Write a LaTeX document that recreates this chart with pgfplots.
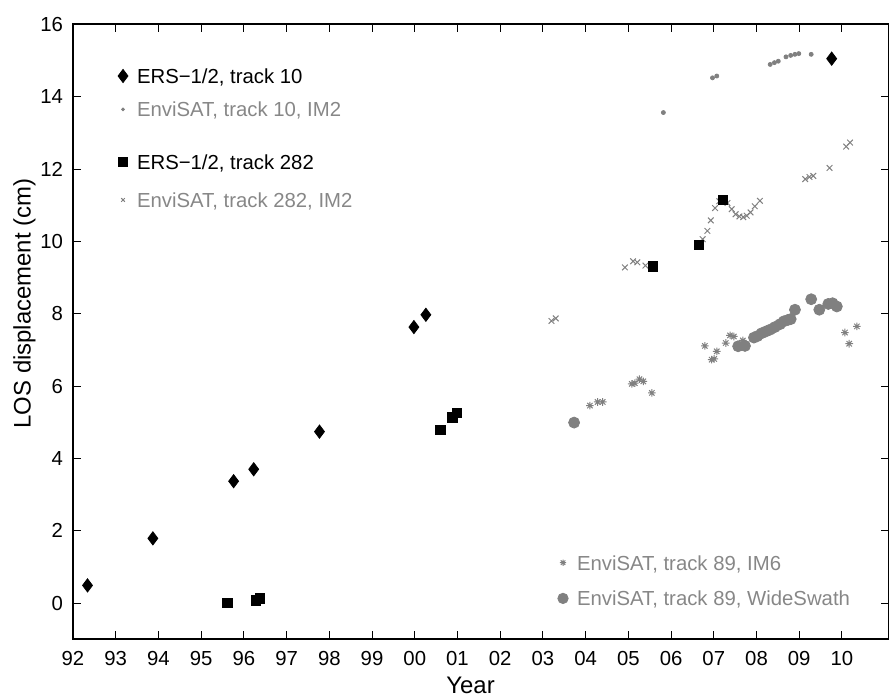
\documentclass[border=0pt]{standalone}
\usepackage{pgfplots}
\pgfplotsset{compat=1.18}
\usepackage{fontspec}
\setmainfont{Liberation Sans}
\definecolor{envgray}{RGB}{128,128,128}
\definecolor{txtgray}{RGB}{135,135,135}

\pgfdeclareplotmark{ast8}{%
  \pgfpathmoveto{\pgfqpoint{-\pgfplotmarksize}{0pt}}\pgfpathlineto{\pgfqpoint{\pgfplotmarksize}{0pt}}%
  \pgfpathmoveto{\pgfqpoint{0pt}{-\pgfplotmarksize}}\pgfpathlineto{\pgfqpoint{0pt}{\pgfplotmarksize}}%
  \pgfpathmoveto{\pgfqpoint{-0.7071\pgfplotmarksize}{-0.7071\pgfplotmarksize}}\pgfpathlineto{\pgfqpoint{0.7071\pgfplotmarksize}{0.7071\pgfplotmarksize}}%
  \pgfpathmoveto{\pgfqpoint{-0.7071\pgfplotmarksize}{0.7071\pgfplotmarksize}}\pgfpathlineto{\pgfqpoint{0.7071\pgfplotmarksize}{-0.7071\pgfplotmarksize}}%
  \pgfusepathqstroke}

\pgfplotsset{
  base/.style={
    width=407.75bp, height=307.5bp, scale only axis,
    xmin=1992, xmax=2011.09, ymin=-1, ymax=16,
    at={(0,0)}, anchor=south west,
  },
  leg/.style={
    legend cell align=left,
    legend style={draw=none, fill=none, inner sep=0pt, outer sep=0pt, column sep=2bp, row sep=#1,
      nodes={inner sep=0pt, outer sep=0pt, text height=7.3bp, text depth=0pt, font=\fontsize{10.2}{12}\selectfont}},
    legend image code/.code={\path[draw=none, fill=none] (-5bp,0pt) -- (5bp,0pt); \draw[##1] plot coordinates {(0pt,0pt)};},
  },
}

\begin{document}
\begin{tikzpicture}
% ---- main axis: track 10 ----
\begin{axis}[base, leg=9.4bp,
  axis line style={line width=0.9bp},
  tick style={black, line width=0.5bp}, major tick length=4bp,
  xtick={1992,1993,1994,1995,1996,1997,1998,1999,2000,2001,2002,2003,2004,2005,2006,2007,2008,2009,2010},
  xticklabels={92,93,94,95,96,97,98,99,00,01,02,03,04,05,06,07,08,09,10},
  ytick={0,2,4,6,8,10,12,14,16},
  /pgf/number format/assume math mode=true,
  tick label style={font=\fontsize{10.2}{12}\selectfont},
  xticklabel style={inner sep=0pt, yshift=-5.7bp},
  yticklabel style={inner sep=0pt, xshift=-4.85bp},
  xlabel={Year}, ylabel={LOS displacement (cm)},
  label style={font=\fontsize{12}{14}\selectfont, inner sep=0pt},
  xlabel style={at={(axis description cs:0.4875,0)}, anchor=base, yshift=-27.2bp},
  ylabel style={at={(axis description cs:-0.0519,0.546)}, anchor=base},
  legend style={at={(axis description cs:0.0491,0.9278)}, anchor=north west},
]
\addplot[only marks, mark=*, mark size=1bp, color=envgray, mark options={fill=envgray, draw=envgray}, forget plot]
coordinates {(2005.82,13.56) (2006.97,14.52) (2007.07,14.57) (2008.32,14.89) (2008.42,14.94) (2008.51,14.98) (2008.69,15.10) (2008.80,15.14) (2008.90,15.17) (2008.99,15.19) (2009.28,15.17)};
\addplot[only marks, mark=diamond*, mark size=3.3bp, color=black, forget plot]
coordinates {(1992.34,0.49) (1993.87,1.79) (1995.76,3.37) (1996.23,3.70) (1997.77,4.74) (1999.98,7.63) (2000.26,7.97) (2009.76,15.05)};
\addlegendimage{only marks, mark=diamond*, mark size=3.3bp, black}
\addlegendentry{ERS−1/2, track 10}
\addlegendimage{only marks, mark=*, mark size=0.7bp, envgray, mark options={fill=envgray, draw=envgray}}
\addlegendentry{\textcolor{txtgray}{EnviSAT, track 10, IM2}}
\end{axis}
% ---- track 282 ----
\begin{axis}[base, leg=11.7bp, hide axis,
  legend style={at={(axis description cs:0.0491,0.788)}, anchor=north west},
]
\addplot[only marks, mark=x, mark size=2bp, color=envgray, line width=0.5bp, forget plot]
coordinates {(2003.20,7.80) (2003.30,7.87) (2004.92,9.28) (2005.11,9.45) (2005.21,9.42) (2005.40,9.33) (2006.74,10.06) (2006.85,10.29) (2006.93,10.58) (2007.03,10.92) (2007.13,11.11) (2007.32,11.06) (2007.42,10.89) (2007.51,10.75) (2007.60,10.69) (2007.69,10.67) (2007.77,10.71) (2007.86,10.80) (2007.96,10.97) (2008.08,11.12) (2009.14,11.72) (2009.24,11.78) (2009.33,11.81) (2009.71,12.03) (2010.10,12.62) (2010.19,12.73)};
\addplot[only marks, mark=square*, mark size=2.35bp, color=black, forget plot]
coordinates {(1995.61,0.00) (1996.28,0.07) (1996.38,0.13) (2000.60,4.79) (2000.88,5.13) (2000.99,5.25) (2005.58,9.31) (2006.65,9.91) (2007.22,11.15)};
\addlegendimage{only marks, mark=square*, mark size=2.2bp, black}
\addlegendentry{ERS−1/2, track 282}
\addlegendimage{only marks, mark=x, mark size=1.3bp, envgray, line width=0.5bp}
\addlegendentry{\textcolor{txtgray}{EnviSAT, track 282, IM2}}
\end{axis}
% ---- track 89 ----
\begin{axis}[base, leg=10.55bp, hide axis,
  legend style={at={(axis description cs:0.5886,0.1364)}, anchor=north west},
]
\addplot[only marks, mark=ast8, mark size=1.9bp, color=envgray, line width=0.5bp, forget plot]
coordinates {(2004.10,5.46) (2004.28,5.56) (2004.40,5.56) (2005.08,6.06) (2005.15,6.08) (2005.26,6.19) (2005.35,6.13) (2005.55,5.81) (2006.79,7.11) (2006.95,6.73) (2007.01,6.75) (2007.07,6.96) (2007.28,7.19) (2007.38,7.40) (2007.47,7.37) (2007.68,7.26) (2010.07,7.48) (2010.17,7.17) (2010.35,7.65)};
\addplot[only marks, mark=*, mark size=2.75bp, color=envgray, mark options={fill=envgray, draw=envgray}, forget plot]
coordinates {(2003.73,4.99) (2007.57,7.10) (2007.73,7.11) (2007.94,7.34) (2008.02,7.38) (2008.12,7.46) (2008.22,7.51) (2008.32,7.56) (2008.43,7.63) (2008.55,7.71) (2008.64,7.79) (2008.74,7.83) (2008.80,7.85) (2008.90,8.11) (2009.28,8.40) (2009.47,8.11) (2009.68,8.27) (2009.78,8.29) (2009.88,8.20)};
\addlegendimage{only marks, mark=ast8, mark size=1.6bp, envgray, line width=0.5bp}
\addlegendentry{\textcolor{txtgray}{EnviSAT, track 89, IM6}}
\addlegendimage{only marks, mark=*, mark size=2.6bp, envgray, mark options={fill=envgray, draw=envgray}}
\addlegendentry{\textcolor{txtgray}{EnviSAT, track 89, WideSwath}}
\end{axis}
\pgfresetboundingbox
\path[use as bounding box] (-36.5bp,-29.35bp) rectangle (408.5bp,319.65bp);
\end{tikzpicture}
\end{document}
